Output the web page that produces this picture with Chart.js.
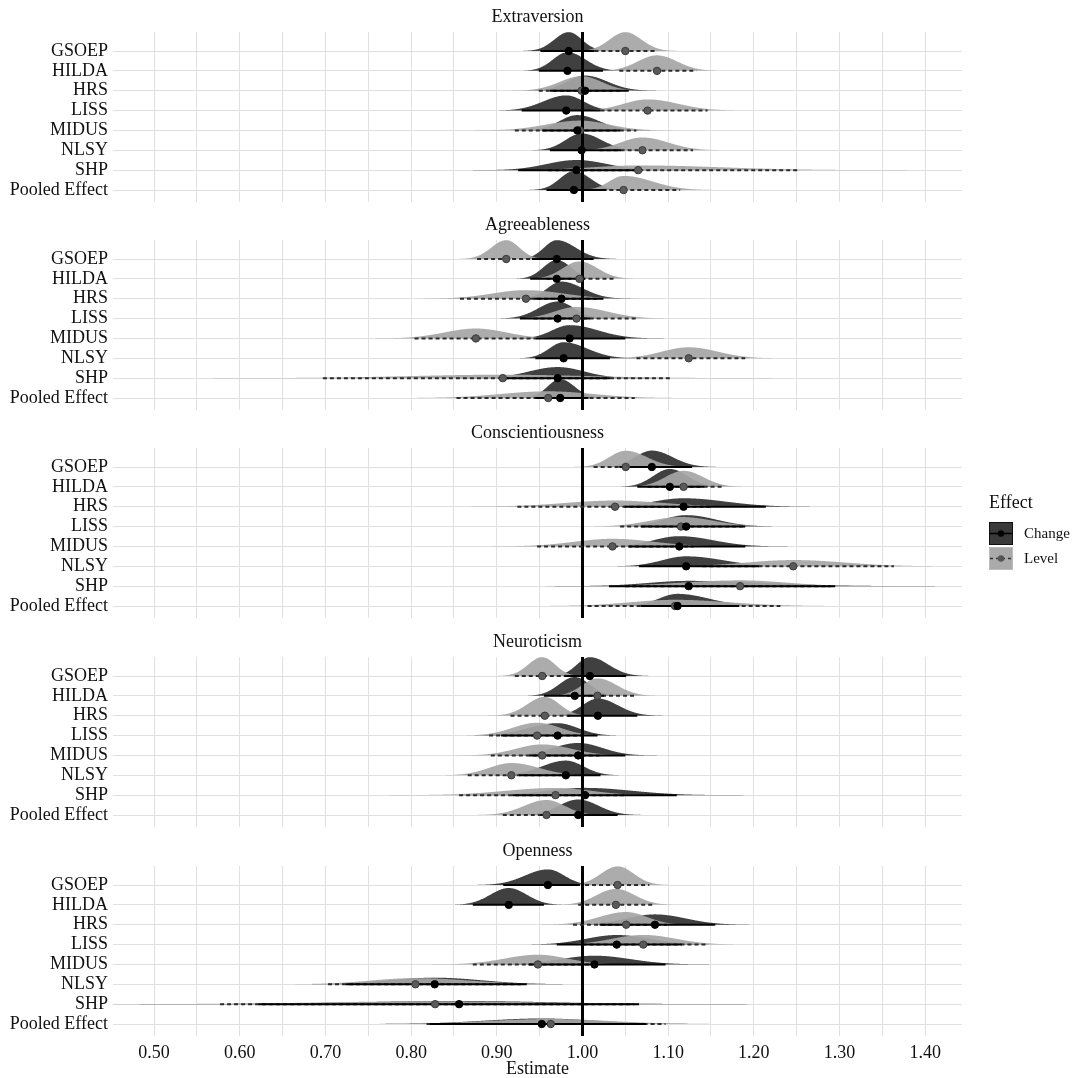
<!DOCTYPE html>
<html>
<head>
<meta charset="utf-8">
<script src="https://cdn.jsdelivr.net/npm/chart.js@4/dist/chart.umd.min.js"></script>
<style>
  html, body { margin: 0; padding: 0; background: #ffffff; }
  #wrap { position: relative; width: 1073px; height: 1078px; overflow: hidden; background: #fff; }
  canvas { position: absolute; left: 0; }
</style>
</head>
<body>
<div id="wrap"></div>
<script>
// ---------------- DATA ----------------
const traits = ['Extraversion', 'Agreeableness', 'Conscientiousness', 'Neuroticism', 'Openness'];
const studies = ['GSOEP', 'HILDA', 'HRS', 'LISS', 'MIDUS', 'NLSY', 'SHP', 'Pooled Effect'];
const xTickValues = [0.50, 0.55, 0.60, 0.65, 0.70, 0.75, 0.80, 0.85, 0.90, 0.95, 1.00,
                     1.05, 1.10, 1.15, 1.20, 1.25, 1.30, 1.35, 1.40];
const effects = ['Change', 'Level'];

// each entry: [estimate, interval low, interval high]
const extraversionChange = [[0.984,0.951,1.014],[0.9825,0.949,1.024],[1.003,0.962,1.054],[0.981,0.929,1.021],
                            [0.994,0.953,1.044],[0.999,0.962,1.045],[0.993,0.925,1.063],[0.990,0.958,1.028]];
const extraversionLevel  = [[1.050,1.014,1.087],[1.087,1.043,1.133],[0.999,0.949,1.045],[1.076,1.021,1.146],
                            [0.997,0.921,1.063],[1.070,1.020,1.129],[1.065,0.960,1.254],[1.048,1.015,1.114]];
const agreeablenessChange = [[0.970,0.941,1.013],[0.970,0.939,1.003],[0.9755,0.943,1.0245],[0.971,0.927,1.009],
                             [0.985,0.945,1.050],[0.978,0.945,1.032],[0.971,0.906,1.032],[0.974,0.945,1.007]];
const agreeablenessLevel  = [[0.911,0.877,0.941],[0.9965,0.958,1.038],[0.934,0.857,1.020],[0.993,0.943,1.063],
                             [0.8756,0.804,0.945],[1.124,1.063,1.190],[0.907,0.697,1.102],[0.960,0.853,1.061]];
const conscientiousnessChange = [[1.081,1.043,1.128],[1.102,1.064,1.142],[1.118,1.049,1.214],[1.121,1.068,1.190],
                                 [1.113,1.054,1.190],[1.121,1.066,1.206],[1.124,1.031,1.295],[1.111,1.068,1.183]];
const conscientiousnessLevel  = [[1.0505,1.013,1.099],[1.118,1.076,1.163],[1.038,0.924,1.150],[1.115,1.044,1.190],
                                 [1.035,0.947,1.130],[1.246,1.140,1.3635],[1.184,1.050,1.290],[1.108,1.006,1.231]];
const neuroticismChange = [[1.0086,0.979,1.051],[0.991,0.955,1.025],[1.018,0.9825,1.064],[0.971,0.905,1.0175],
                           [0.995,0.938,1.050],[0.9806,0.926,1.021],[1.003,0.918,1.110],[0.995,0.951,1.041]];
const neuroticismLevel  = [[0.953,0.921,0.9825],[1.0175,0.982,1.062],[0.956,0.916,0.990],[0.947,0.891,1.000],
                           [0.953,0.893,1.020],[0.917,0.866,0.980],[0.9685,0.856,1.050],[0.958,0.907,1.000]];
const opennessChange = [[0.9596,0.9075,0.997],[0.914,0.872,0.955],[1.0846,1.020,1.155],[1.040,0.970,1.116],
                        [1.014,0.937,1.097],[0.8275,0.724,0.935],[0.856,0.622,1.066],[0.9525,0.822,1.074]];
const opennessLevel  = [[1.041,1.003,1.078],[1.039,0.995,1.0825],[1.051,0.989,1.099],[1.071,1.000,1.145],
                        [0.948,0.872,1.016],[0.805,0.703,0.930],[0.828,0.577,1.060],[0.963,0.818,1.097]];

const changeByTrait = [extraversionChange, agreeablenessChange, conscientiousnessChange, neuroticismChange, opennessChange];
const levelByTrait  = [extraversionLevel, agreeablenessLevel, conscientiousnessLevel, neuroticismLevel, opennessLevel];

// ---------------- STYLE ----------------
const FONT = "'Liberation Serif', 'Times New Roman', serif";
const CHANGE_FILL = 'rgba(58,58,58,0.97)';
const LEVEL_FILL = 'rgba(166,166,166,0.93)';
const GRID = '#e0e0e0';
const CANVAS_TOPS = [0, 208, 416, 625, 834];
const CANVAS_H = [208, 208, 209, 209, 244];
const AREA_BOTTOM = 202;
const X_MIN = 0.452, X_MAX = 1.443;
const Y_MIN = -0.957, Y_MAX = 7.604;
const HEIGHT_SCALE = 0.045;   // rows per unit of density
const MAX_HEIGHT = 0.95;      // rows

function peakOf(d) {
  const sdL = (d[0] - d[1]) / 1.96, sdR = (d[2] - d[0]) / 1.96;
  return 2 / (Math.sqrt(2 * Math.PI) * (sdL + sdR));
}

function drawSlab(ctx, xs, ys, d, row, fill) {
  const est = d[0];
  const sdL = (d[0] - d[1]) / 1.96, sdR = (d[2] - d[0]) / 1.96;
  const peak = peakOf(d);
  const k = Math.min(HEIGHT_SCALE, MAX_HEIGHT / peak);
  const base = ys.getPixelForValue(row);
  const px0 = xs.getPixelForValue(est - 4 * sdL), px1 = xs.getPixelForValue(est + 4 * sdR);
  ctx.beginPath();
  ctx.moveTo(px0, base);
  for (let px = px0; px <= px1 + 0.5; px += 0.5) {
    const v = xs.getValueForPixel(px);
    const sd = v < est ? sdL : sdR;
    const dens = peak * Math.exp(-0.5 * Math.pow((v - est) / sd, 2));
    ctx.lineTo(px, ys.getPixelForValue(row - k * dens));
  }
  ctx.lineTo(px1, base);
  ctx.closePath();
  ctx.fillStyle = fill;
  ctx.fill();
}

const halfEyePlugin = {
  id: 'halfEye',
  beforeDatasetsDraw(chart, args, opts) {
    const { ctx, chartArea, scales } = chart;
    const xs = scales.x, ys = scales.y;
    ctx.save();
    ctx.beginPath();
    ctx.rect(chartArea.left, chartArea.top, chartArea.width, chartArea.height);
    ctx.clip();
    opts.change.forEach((d, i) => drawSlab(ctx, xs, ys, d, i, CHANGE_FILL));
    opts.level.forEach((d, i) => drawSlab(ctx, xs, ys, d, i, LEVEL_FILL));
    // reference line at 1.00
    const x1 = xs.getPixelForValue(1.0);
    ctx.beginPath();
    ctx.moveTo(x1, chartArea.top);
    ctx.lineTo(x1, chartArea.bottom);
    ctx.strokeStyle = '#000';
    ctx.lineWidth = 3;
    ctx.stroke();
    ctx.restore();
  },
  afterDraw(chart, args, opts) {
    if (!opts.legend) return;
    const ctx = chart.ctx;
    ctx.save();
    ctx.fillStyle = '#111';
    ctx.font = '18px ' + FONT;
    ctx.textBaseline = 'middle';
    ctx.textAlign = 'left';
    ctx.fillText('Effect', 989, 87);
    const keys = [
      { label: effects[0], fill: 'rgb(58,58,58)', stroke: '#111', dash: [], pt: '#000', top: 106 },
      { label: effects[1], fill: 'rgb(170,170,170)', stroke: '#bbb', dash: [3, 3], pt: '#555', top: 131 }
    ];
    keys.forEach(k => {
      ctx.fillStyle = k.fill;
      ctx.fillRect(989, k.top, 24, 23);
      ctx.strokeStyle = k.stroke;
      ctx.lineWidth = 1;
      ctx.strokeRect(989.5, k.top + 0.5, 23, 22);
      ctx.beginPath();
      ctx.setLineDash(k.dash);
      ctx.moveTo(990, k.top + 11.5);
      ctx.lineTo(1012, k.top + 11.5);
      ctx.strokeStyle = k.label === 'Change' ? '#000' : '#333';
      ctx.lineWidth = 1.6;
      ctx.stroke();
      ctx.setLineDash([]);
      ctx.beginPath();
      ctx.arc(1001, k.top + 11.5, 3.2, 0, Math.PI * 2);
      ctx.fillStyle = k.pt;
      ctx.fill();
      ctx.fillStyle = '#111';
      ctx.font = '15px ' + FONT;
      ctx.fillText(k.label, 1024, k.top + 12);
    });
    ctx.restore();
  }
};

function buildDatasets(change, level) {
  const ds = [];
  level.forEach((d, i) => ds.push({
    data: [{ x: d[1], y: i }, { x: d[2], y: i }],
    showLine: true, borderColor: '#2b2b2b', borderWidth: 2, borderDash: [4, 3],
    pointRadius: 0, order: 3
  }));
  change.forEach((d, i) => ds.push({
    data: [{ x: d[1], y: i }, { x: d[2], y: i }],
    showLine: true, borderColor: '#000', borderWidth: 2,
    pointRadius: 0, order: 2
  }));
  ds.push({
    data: level.map((d, i) => ({ x: d[0], y: i })),
    showLine: false, pointRadius: 3.7, pointBackgroundColor: '#5a5a5a',
    pointBorderColor: '#3a3a3a', pointBorderWidth: 1, order: 1
  });
  ds.push({
    data: change.map((d, i) => ({ x: d[0], y: i })),
    showLine: false, pointRadius: 3.7, pointBackgroundColor: '#000',
    pointBorderColor: '#000', pointBorderWidth: 1, order: 0
  });
  return ds;
}

const wrap = document.getElementById('wrap');
traits.forEach((trait, k) => {
  const canvas = document.createElement('canvas');
  canvas.width = 1073;
  canvas.height = CANVAS_H[k];
  canvas.style.top = CANVAS_TOPS[k] + 'px';
  canvas.style.width = '1073px';
  canvas.style.height = CANVAS_H[k] + 'px';
  wrap.appendChild(canvas);
  const isBottom = k === traits.length - 1;
  const xAxisHeight = CANVAS_H[k] - AREA_BOTTOM;
  new Chart(canvas.getContext('2d'), {
    type: 'scatter',
    data: { datasets: buildDatasets(changeByTrait[k], levelByTrait[k]) },
    options: {
      responsive: false,
      animation: false,
      devicePixelRatio: 1,
      layout: { padding: { left: 0, right: 111, top: 0, bottom: 0 } },
      plugins: {
        legend: { display: false },
        tooltip: { enabled: false },
        title: {
          display: true, text: trait, color: '#111', fullSize: false,
          font: { family: FONT, size: 18, weight: 'normal', lineHeight: 1.2 },
          padding: { top: 6, bottom: 4.4 }
        },
        halfEye: { change: changeByTrait[k], level: levelByTrait[k], legend: k === 2 }
      },
      scales: {
        x: {
          type: 'linear', min: X_MIN, max: X_MAX,
          afterBuildTicks: s => { s.ticks = xTickValues.map(v => ({ value: v })); },
          afterFit: s => { s.height = xAxisHeight; s.paddingLeft = 0; s.paddingRight = 0; },
          border: { display: false },
          grid: { color: GRID, lineWidth: 1, drawTicks: false },
          ticks: {
            display: isBottom, autoSkip: false, maxRotation: 0, padding: 8,
            color: '#111', font: { family: FONT, size: 18, lineHeight: 1 },
            callback: (v, i) => (i % 2 === 0 ? Number(v).toFixed(2) : '')
          },
          title: {
            display: isBottom, text: 'Estimate', color: '#111',
            font: { family: FONT, size: 18, lineHeight: 1 }, padding: { top: 0, bottom: 0 }
          }
        },
        y: {
          type: 'linear', reverse: true, min: Y_MIN, max: Y_MAX,
          afterBuildTicks: s => { s.ticks = studies.map((_, i) => ({ value: i })); },
          afterFit: s => { s.width = 113; s.paddingTop = 0; s.paddingBottom = 0; },
          border: { display: false },
          grid: { color: GRID, lineWidth: 1, drawTicks: false },
          ticks: {
            autoSkip: false, padding: 5, color: '#111',
            font: { family: FONT, size: 18 },
            callback: v => studies[Math.round(v)] || ''
          }
        }
      }
    },
    plugins: [halfEyePlugin]
  });
});
</script>
</body>
</html>
